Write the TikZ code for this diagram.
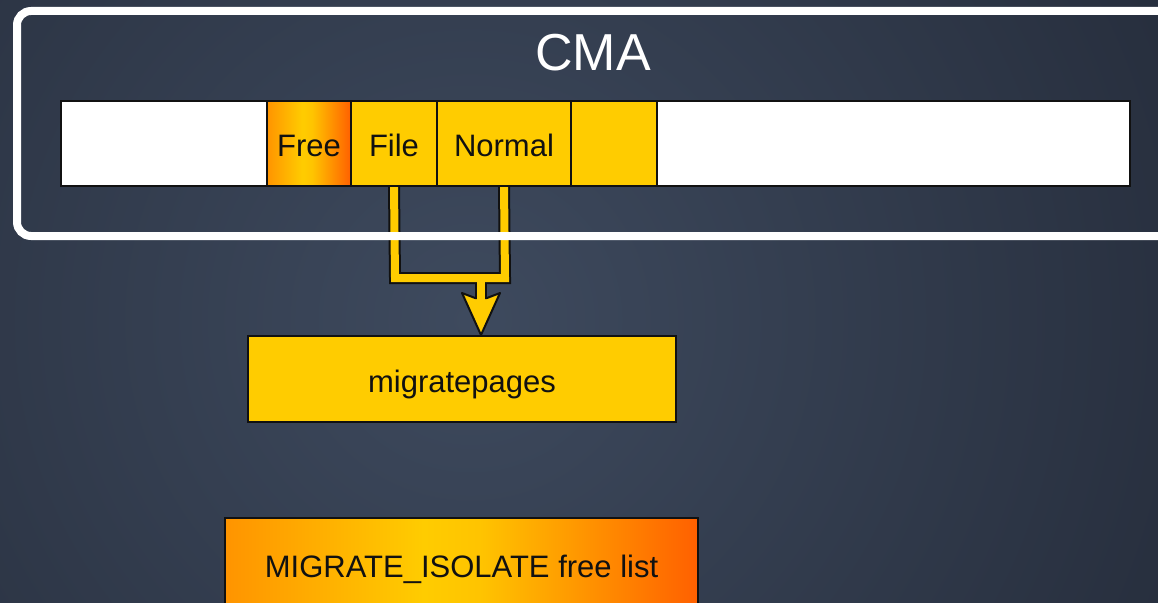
\documentclass[tikz,border=0pt]{standalone}
\usepackage{fontspec}
\setmainfont{Liberation Sans}
\pgfdeclarelayer{back}
\pgfdeclarelayer{bg}
\pgfsetlayers{back,bg,main}
\definecolor{bgin}{HTML}{3E4A5E}
\definecolor{bgout}{HTML}{1E2431}
\definecolor{cyel}{HTML}{FFCC00}
\definecolor{corg}{HTML}{FF9400}
\definecolor{cred}{HTML}{FF6000}
\definecolor{ink}{HTML}{111111}
\pgfdeclarehorizontalshading{hotshade}{100bp}{color(0bp)=(corg); color(25bp)=(corg); color(46bp)=(cyel); color(52bp)=(cyel!85!corg); color(75bp)=(cred); color(100bp)=(cred)}
\tikzset{
  seg/.style={draw=ink, line width=2pt, minimum height=85pt, inner sep=0pt, text=ink, font=\fontsize{31}{31}\selectfont, text height=27pt, text depth=1pt},
  whiteseg/.style={seg, fill=white},
  yelseg/.style={seg, fill=cyel},
  gradseg/.style={seg, shading=hotshade},
  outl/.style={draw=ink, line width=12pt},
  inl/.style={draw=cyel, line width=8pt},
}
\begin{document}
\begin{tikzpicture}[x=1pt,y=-1pt]
\useasboundingbox (0,0) rectangle (1158,602);
\begin{pgfonlayer}{back}
\clip (0,0) rectangle (1158,602);
\fill[bgout] (0,0) rectangle (1158,602);
\shade[inner color=bgin, outer color=bgout] (470,320) circle (1050);
\end{pgfonlayer}
% frame
\draw[white, line width=8pt, rounded corners=14pt] (17,11) rectangle (1180,236);
\node[text=white, font=\fontsize{52}{52}\selectfont] (cma) at (593,53) {CMA};
% bar
\node[whiteseg, minimum width=206pt] (w1) at (164,143.5) {};
\node[gradseg, minimum width=84pt] (free) at (309,143.5) {Free};
\node[yelseg, minimum width=86pt] (file) at (394,143.5) {File};
\node[yelseg, minimum width=134pt] (normal) at (504,143.5) {Normal};
\node[yelseg, minimum width=86pt] (blank) at (614,143.5) {};
\node[whiteseg, minimum width=473pt] (w2) at (893.5,143.5) {};
% boxes
\node[yelseg, minimum width=428pt, minimum height=86pt] (mp) at (462,379) {migratepages};
\node[gradseg, minimum width=473pt, minimum height=92pt] (iso) at (461.5,564) {MIGRATE\_ISOLATE free list};
% connectors
\coordinate (jl) at (395,278);
\coordinate (jr) at (505,278);
\coordinate (m) at (481,278);
\coordinate (tip) at (481,335);
\coordinate (s) at (481,301);
\begin{pgfonlayer}{bg}
\draw[outl] (file.south) -- (jl) -- (jr) -- (normal.south);
\draw[outl] (m) -- (s);
\draw[draw=ink, fill=cyel, line width=2pt, line join=round] (tip) -- (462,293) -- (475,298) -- (487,298) -- (500,293) -- cycle;
\draw[inl] (file.south) -- (jl) -- (jr) -- (normal.south);
\draw[inl] (m) -- (s);
\end{pgfonlayer}
\end{tikzpicture}
\end{document}
